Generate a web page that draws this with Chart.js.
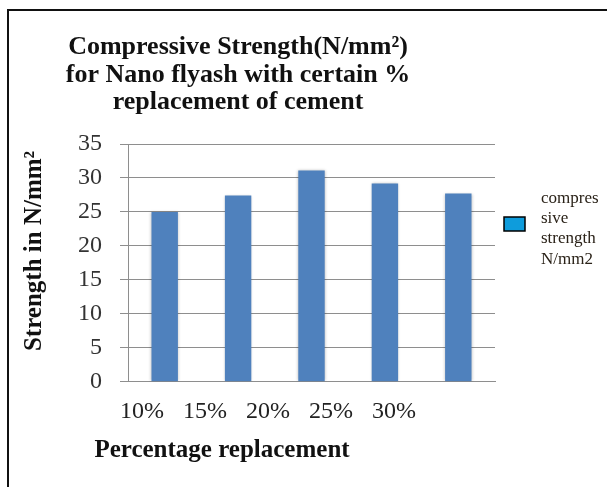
<!DOCTYPE html>
<html>
<head>
<meta charset="utf-8">
<script src="https://cdn.jsdelivr.net/npm/chart.js@4/dist/chart.umd.min.js"></script>
<style>
  html, body { margin: 0; padding: 0; background: #fff; }
  canvas { display: block; }
</style>
</head>
<body>
<canvas id="strength" width="607" height="487"></canvas>
<script>
// values
const categories = ['10%', '15%', '20%', '25%', '30%'];
const strengths = [25, 27.4, 31.1, 29.2, 27.7];
const seriesName = 'compressive strength N/mm2';
const legendLines = ['compres', 'sive', 'strength', 'N/mm2'];
const titleLines = ['Compressive Strength(N/mm\u00B2)', 'for Nano flyash with certain %', 'replacement of cement'];
const xTitle = 'Percentage replacement';
const yTitle = 'Strength in N/mm\u00B2';
const yMin = 0;
const yMax = 35;
const yStep = 5;

const serif = '"Liberation Serif", "Times New Roman", serif';
const barBlue = '#4f81bd';
const legendBlue = '#0e9cdc';
const gridGrey = '#8e8e8e';

// soft shadow round the bars, office style
const barShadow = {
  id: 'barShadow',
  beforeDatasetsDraw(chart) {
    const ctx = chart.ctx;
    ctx.save();
    ctx.shadowColor = 'rgba(0,0,0,0.28)';
    ctx.shadowBlur = 3;
    ctx.shadowOffsetX = 0;
    ctx.shadowOffsetY = 0;
  },
  afterDatasetsDraw(chart) {
    chart.ctx.restore();
  }
};

// titles, frame and legend drawn on top of the chart
const decor = {
  id: 'decor',
  afterDraw(chart) {
    const ctx = chart.ctx;
    ctx.save();
    ctx.strokeStyle = '#111';
    ctx.lineWidth = 2;
    ctx.beginPath();
    ctx.moveTo(8, 487);
    ctx.lineTo(8, 10);
    ctx.lineTo(607, 10);
    ctx.stroke();

    ctx.fillStyle = '#111';
    ctx.textAlign = 'center';
    ctx.textBaseline = 'alphabetic';
    ctx.font = 'bold 26px ' + serif;
    titleLines.forEach((t, i) => ctx.fillText(t, 238, 54 + i * 27.5));

    ctx.font = 'bold 25px ' + serif;
    ctx.fillText(xTitle, 222, 457);

    ctx.save();
    ctx.translate(41, 251);
    ctx.rotate(-Math.PI / 2);
    ctx.fillText(yTitle, 0, 0);
    ctx.restore();

    // legend
    ctx.fillStyle = legendBlue;
    ctx.fillRect(504, 217, 21, 14);
    ctx.strokeStyle = '#000';
    ctx.lineWidth = 1.5;
    ctx.strokeRect(504, 217, 21, 14);
    ctx.fillStyle = '#2a2218';
    ctx.textAlign = 'left';
    ctx.font = '17px ' + serif;
    legendLines.forEach((t, i) => ctx.fillText(t, 541, 203 + i * 20.2));
    ctx.restore();
  }
};

const myChart = new Chart(document.getElementById('strength'), {
  type: 'bar',
  data: {
    labels: categories,
    datasets: [{
      label: seriesName,
      data: strengths,
      backgroundColor: barBlue,
      borderWidth: 0,
      categoryPercentage: 1,
      barPercentage: 0.36
    }]
  },
  options: {
    responsive: false,
    devicePixelRatio: 1,
    animation: false,
    layout: { padding: { left: 8, right: 112, top: 144, bottom: 0 } },
    plugins: {
      legend: { display: false },
      title: { display: false },
      tooltip: { enabled: false }
    },
    scales: {
      x: {
        type: 'category',
        position: 'bottom',
        ticks: { display: false },
        grid: { display: false, drawTicks: false },
        border: { display: true, color: gridGrey, width: 1 },
        afterFit(s) { s.height = 0; }
      },
      // label axis: the tick labels sit a little left of the bars in the reference
      xl: {
        type: 'linear',
        position: 'bottom',
        offset: false,
        min: -0.2222,
        max: 5.6032,
        grid: { display: false, drawTicks: false, offset: false },
        border: { display: false },
        ticks: {
          stepSize: 1,
          includeBounds: false,
          autoSkip: false,
          maxRotation: 0,
          padding: 16,
          color: '#222',
          font: { family: serif, size: 24 },
          callback: (v) => categories[v] !== undefined ? categories[v] : ''
        },
        afterFit(s) { s.height = 105.3; }
      },
      y: {
        min: yMin,
        max: yMax,
        ticks: {
          stepSize: yStep,
          padding: 18,
          color: '#333',
          font: { family: serif, size: 24 }
        },
        grid: { color: gridGrey, tickColor: gridGrey, tickLength: 8, lineWidth: 1 },
        border: { color: gridGrey, width: 1 },
        afterFit(s) { s.width = 120; }
      }
    }
  },
  plugins: [barShadow, decor]
});
</script>
</body>
</html>
